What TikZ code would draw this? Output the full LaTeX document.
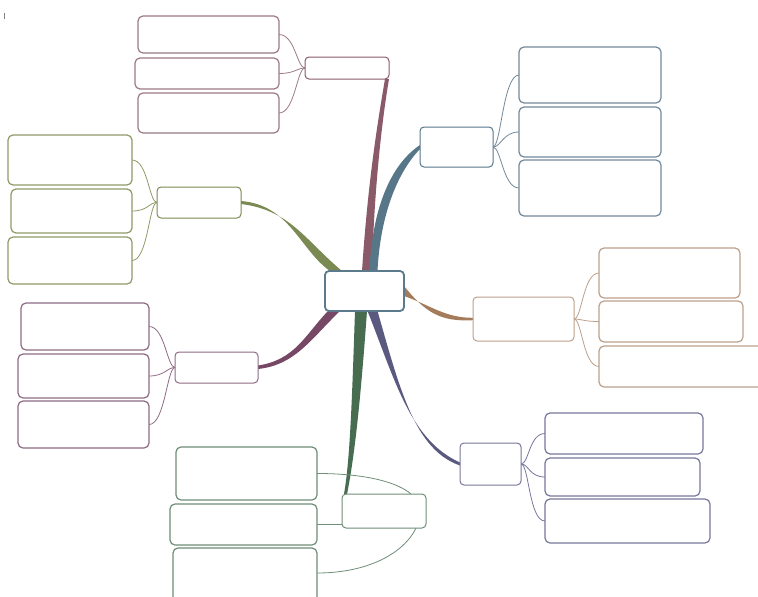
\documentclass[tikz,border=0pt]{standalone}
\usetikzlibrary{calc}
\pgfdeclarelayer{bg}
\pgfsetlayers{bg,main}
\definecolor{cMar}{HTML}{8A5A68}\definecolor{cMarL}{HTML}{9C7A86}
\definecolor{cBlu}{HTML}{577789}\definecolor{cBluL}{HTML}{72899A}
\definecolor{cOli}{HTML}{7B8A52}\definecolor{cOliL}{HTML}{8E9A68}
\definecolor{cPur}{HTML}{774866}\definecolor{cPurL}{HTML}{8E6A84}
\definecolor{cBro}{HTML}{A47C5C}\definecolor{cBroL}{HTML}{BBA08C}
\definecolor{cGrn}{HTML}{476C50}\definecolor{cGrnL}{HTML}{6F8D77}
\definecolor{cNav}{HTML}{5A5A80}\definecolor{cNavL}{HTML}{77779B}
\definecolor{cCen}{HTML}{5B7A8C}
\tikzset{
  every node/.style={inner sep=0pt,outer sep=0pt,fill=white},
  centerbox/.style={draw=cCen,line width=1.8pt,rounded corners=4pt},
  mainbox/.style={draw=#1,line width=1pt,rounded corners=4pt},
  childbox/.style={draw=#1,line width=1.2pt,rounded corners=5pt},
  sub/.style={draw=#1,line width=0.8pt},
}
\newcommand\bx[6]{\pgfmathsetmacro\bxw{#5-#3}\pgfmathsetmacro\bxh{#6-#4}%
  \node[#2,minimum width=\bxw pt,minimum height=\bxh pt] (#1) at ({(#3+#5)/2},{(#4+#6)/2}) {};}
\begin{document}
\begin{tikzpicture}[x=1pt,y=-1pt]
\useasboundingbox (0,0) rectangle (758,597);
\clip (0,0) rectangle (758,597);
\draw[gray,line width=0.8pt] (4,13) -- (4,19);
% center
\bx{C}{centerbox}{325}{271}{404}{311}
% maroon branch
\bx{M}{mainbox=cMar}{305}{57}{389}{79}
\bx{M1}{childbox=cMarL}{138}{16}{279}{53}
\bx{M2}{childbox=cMarL}{135}{58}{279}{89}
\bx{M3}{childbox=cMarL}{138}{93}{279}{133}
% blue branch
\bx{B}{mainbox=cBlu}{420}{127}{493}{167}
\bx{B1}{childbox=cBluL}{519}{47}{661}{103}
\bx{B2}{childbox=cBluL}{519}{107}{661}{157}
\bx{B3}{childbox=cBluL}{519}{160}{661}{216}
% olive branch
\bx{O}{mainbox=cOli}{157}{187}{241}{218}
\bx{O1}{childbox=cOliL}{8}{135}{132}{185}
\bx{O2}{childbox=cOliL}{11}{189}{132}{233}
\bx{O3}{childbox=cOliL}{8}{237}{132}{284}
% brown branch
\bx{R}{mainbox=cBroL}{473}{297}{574}{341}
\bx{R1}{childbox=cBroL}{599}{248}{740}{298}
\bx{R2}{childbox=cBroL}{599}{301}{743}{342}
\bx{R3}{childbox=cBroL}{599}{346}{775}{387}
% purple branch
\bx{P}{mainbox=cPurL}{175}{352}{258}{383}
\bx{P1}{childbox=cPurL}{21}{303}{149}{350}
\bx{P2}{childbox=cPurL}{18}{354}{149}{398}
\bx{P3}{childbox=cPurL}{18}{401}{149}{448}
% green branch
\bx{G}{mainbox=cGrnL}{342}{494}{426}{528}
\bx{G1}{childbox=cGrnL}{176}{447}{317}{500}
\bx{G2}{childbox=cGrnL}{170}{504}{317}{545}
\bx{G3}{childbox=cGrnL}{173}{548}{317}{610}
% navy branch
\bx{N}{mainbox=cNavL}{460}{443}{521}{485}
\bx{N1}{childbox=cNavL}{545}{413}{703}{454}
\bx{N2}{childbox=cNavL}{545}{458}{700}{496}
\bx{N3}{childbox=cNavL}{545}{499}{710}{543}
\begin{pgfonlayer}{bg}
% tapered main connectors
\fill[cMar] ($(C.north)+(-2.5,0)$) .. controls (368,180) and (378,120) .. ($(M.south east)+(-4,0)$)
  -- ($(M.south east)+(0,0)$) .. controls (382,120) and (374,190) .. ($(C.north)+(7.5,0)$) -- cycle;
\fill[cBlu] ($(C.north)+(5,0)$) .. controls (372,210) and (390,165) .. ($(B.west)+(0,-2)$)
  -- ($(B.west)+(0,2)$) .. controls (395,175) and (380,220) .. ($(C.north)+(13,0)$) -- cycle;
\fill[cOli] ($(O.east)+(0,-1.5)$) .. controls (290,205) and (300,250) .. ($(C.north west)+(5,0)$)
  -- ($(C.north west)+(17,0)$) .. controls (305,240) and (290,210) .. ($(O.east)+(0,1.5)$) -- cycle;
\fill[cPur] ($(P.east)+(0,-2)$) .. controls (295,360) and (305,335) .. ($(C.south west)+(3,0)$)
  -- ($(C.south west)+(15,0)$) .. controls (310,340) and (295,365) .. ($(P.east)+(0,1.5)$) -- cycle;
\fill[cBro] ($(C.east)+(0,5)$) .. controls (430,305) and (445,318) .. ($(R.west)+(0,-1.2)$)
  -- ($(R.west)+(0,1.2)$) .. controls (440,322) and (425,312) .. ($(C.east)+(0,-5)$) -- cycle;
\fill[cGrn] ($(C.south)+(-9.5,0)$) .. controls (352,400) and (350,460) .. ($(G.north west)+(2,0)$)
  -- ($(G.north west)+(5,0)$) .. controls (356,450) and (362,380) .. ($(C.south)+(2.5,0)$) -- cycle;
\fill[cNav] ($(C.south)+(3,0)$) .. controls (395,380) and (410,440) .. ($(N.west)+(0,-1.5)$)
  -- ($(N.west)+(0,1.5)$) .. controls (415,450) and (400,390) .. ($(C.south)+(13,0)$) -- cycle;
% sub connectors
\foreach \c in {M1,M2,M3}
  \draw[sub=cMarL] (M.west) .. controls +(-8,0) and +(16,0) .. (\c.east);
\foreach \c in {B1,B2,B3}
  \draw[sub=cBluL] (B.east) .. controls +(8,0) and +(-16,0) .. (\c.west);
\foreach \c in {O1,O2,O3}
  \draw[sub=cOliL] (O.west) .. controls +(-8,0) and +(16,0) .. (\c.east);
\foreach \c in {R1,R2,R3}
  \draw[sub=cBroL] (R.east) .. controls +(8,0) and +(-16,0) .. (\c.west);
\foreach \c in {P1,P2,P3}
  \draw[sub=cPurL] (P.west) .. controls +(-8,0) and +(16,0) .. (\c.east);
\foreach \c in {N1,N2,N3}
  \draw[sub=cNavL] (N.east) .. controls +(8,0) and +(-16,0) .. (\c.west);
\draw[sub=cGrnL] (G1.east) .. controls +(65,0) and +(0,-22) .. ($(G.east)+(-6,0)$);
\draw[sub=cGrnL] (G2.east) -- (G2.east -| G.west);
\draw[sub=cGrnL] ($(G3.east)+(0,-6)$) .. controls +(65,0) and +(0,30) .. ($(G.east)+(-6,0)$);
\end{pgfonlayer}
\end{tikzpicture}
\end{document}
